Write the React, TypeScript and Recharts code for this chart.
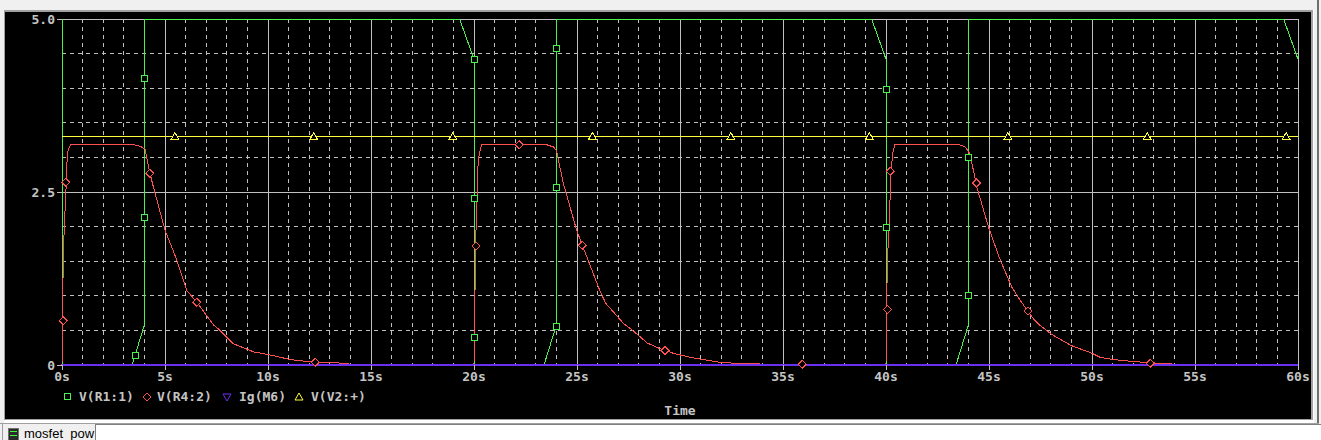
import React from 'react';
import { ComposedChart, Line, XAxis, YAxis, CartesianGrid } from 'recharts';

// ---- axis ticks ----
const X_MAJOR = [0, 5, 10, 15, 20, 25, 30, 35, 40, 45, 50, 55, 60];
const X_MINOR = Array.from({ length: 61 }, (_, i) => i);
const Y_MAJOR = [0, 2.5, 5];
const Y_MINOR = [0, 0.5, 1, 1.5, 2, 2.5, 3, 3.5, 4, 4.5, 5];
const Y_LABELS: Record<string, string> = { '0': '0', '2.5': '2.5', '5': '5.0' };

// ---- V(R1:1) (green) ----
const R1_T = [0, 0, 3.4, 4, 4, 19.3, 20, 20, 23.4, 24, 24, 39.3, 40, 40, 43.4, 44, 44, 59.3, 60];
const R1_V = [5, 0, 0, 0.58, 5, 5, 4.42, 0, 0, 0.58, 5, 5, 4.42, 0, 0, 0.58, 5, 5, 4.42];
const R1_MK_T = [3.56, 4, 4, 20, 20, 20, 24, 24, 24, 40, 40, 44, 44];
const R1_MK_V = [0.14, 2.13, 4.14, 0.4, 2.41, 4.42, 0.56, 2.57, 4.58, 1.98, 3.98, 1.0, 3.0];

// ---- V(R4:2) (red) ----
const R4_T = [
  0, 0.016, 0.065, 0.11, 0.18, 0.23, 0.26, 0.36, 0.42, 3.55, 3.8, 4.03, 4.27, 4.43, 5.0, 5.57, 6.05, 6.54, 7.35, 7.67,
  8.3, 9.3, 10.1, 11.07, 11.6, 12.3, 13.9, 13.9, 16.3, 16.3,
  20, 20.01, 20.08, 20.1, 20.15, 20.2, 20.26, 20.36, 23.56, 23.86, 24.0, 24.34, 24.98, 25.26, 26.1, 26.4, 27.26, 27.57,
  28.06, 28.4, 29.0, 29.67, 30.5, 31.3, 31.9, 32.7, 33.9, 36.3, 36.3,
  40, 40.01, 40.07, 40.16, 40.2, 40.25, 40.33, 40.42, 43.6, 43.85, 44.05, 44.24, 44.4, 44.97, 45.5, 46.1, 46.5, 47.2,
  47.45, 48, 49, 50, 50.4, 51, 52, 53, 53.9, 56.3, 56.3, 60,
];
const R4_V = [
  0, 0.64, 1.55, 2.0, 2.42, 2.82, 3.06, 3.15, 3.18, 3.18, 3.16, 3.12, 2.77, 2.58, 1.95, 1.52, 1.08, 0.91, 0.58, 0.5,
  0.31, 0.19, 0.145, 0.08, 0.06, 0.04, 0.024, 0.014, 0.014, 0,
  0, 0.5, 1.55, 2.0, 2.43, 2.92, 3.06, 3.18, 3.18, 3.15, 3.1, 2.62, 1.95, 1.73, 1.08, 0.89, 0.6, 0.53,
  0.41, 0.32, 0.24, 0.17, 0.11, 0.07, 0.04, 0.024, 0.014, 0.014, 0,
  0, 0.5, 1.55, 2.0, 2.43, 2.82, 3.06, 3.18, 3.18, 3.15, 3.06, 2.82, 2.58, 2.0, 1.55, 1.13, 0.94, 0.65,
  0.58, 0.45, 0.28, 0.17, 0.11, 0.08, 0.05, 0.03, 0.014, 0.014, 0, 0,
];
const R4_MK_T = [0.05, 0.19, 4.27, 6.54, 12.3, 20.09, 22.2, 25.26, 29.27, 35.94, 40.07, 40.2, 44.4, 46.9, 52.82];
const R4_MK_V = [0.64, 2.64, 2.77, 0.91, 0.04, 1.72, 3.18, 1.73, 0.21, 0.01, 0.8, 2.8, 2.63, 0.78, 0.024];

// ---- Ig(M6) (purple) ----
const M6_T = [0, 60];
const M6_V = [0, 0];

// ---- V(V2:+) (yellow) ----
const V2_T = [0, 60];
const V2_V = [3.3, 3.3];
const V2_MK_T = [5.48, 12.22, 18.97, 25.75, 32.47, 39.19, 45.92, 52.68, 59.42];
const V2_MK_V = [3.3, 3.3, 3.3, 3.3, 3.3, 3.3, 3.3, 3.3, 3.3];

const LEGEND = ['V(R1:1)', 'V(R4:2)', 'Ig(M6)', 'V(V2:+)'];

const toRows = (t: number[], v: number[]) => t.map((x, i) => ({ t: x, v: v[i] }));

const C_GREEN = '#4cf04c';
const C_RED = '#ff5050';
const C_PURPLE = '#6a30f0';
const C_YELLOW = '#ffff40';
const C_GRID = '#c0c0c0';
const C_TEXT = '#c4c4c4';
const FONT = "'DejaVu Sans Mono', monospace";

const squareDot = (color: string) => (p: any) =>
  p.cx == null ? <g key={p.index} /> : (
    <rect key={p.index} x={p.cx - 3} y={p.cy - 3} width={6} height={6} fill="#000" stroke={color} strokeWidth={1} />
  );
const diamondDot = (color: string) => (p: any) =>
  p.cx == null ? <g key={p.index} /> : (
    <polygon
      key={p.index}
      points={`${p.cx},${p.cy - 4} ${p.cx + 4},${p.cy} ${p.cx},${p.cy + 4} ${p.cx - 4},${p.cy}`}
      fill="#000"
      stroke={color}
      strokeWidth={1}
    />
  );
const triUpDot = (color: string) => (p: any) =>
  p.cx == null ? <g key={p.index} /> : (
    <polygon
      key={p.index}
      points={`${p.cx},${p.cy - 4} ${p.cx + 4},${p.cy + 3} ${p.cx - 4},${p.cy + 3}`}
      fill="#000"
      stroke={color}
      strokeWidth={1}
    />
  );

const LegendGlyph = ({ kind, color }: { kind: string; color: string }) => (
  <svg width={10} height={10} style={{ display: 'block' }}>
    {kind === 'square' && <rect x={1.5} y={1.5} width={6} height={6} fill="none" stroke={color} />}
    {kind === 'diamond' && <polygon points="5,1 9,5 5,9 1,5" fill="none" stroke={color} />}
    {kind === 'down' && <polygon points="1,2 9,2 5,9" fill="none" stroke={color} />}
    {kind === 'up' && <polygon points="5,1 9,8 1,8" fill="none" stroke={color} />}
  </svg>
);

export default function App() {
  const legendItems = [
    { kind: 'square', color: C_GREEN, gx: 63, tx: 79, label: LEGEND[0] },
    { kind: 'diamond', color: C_RED, gx: 142, tx: 157, label: LEGEND[1] },
    { kind: 'down', color: C_PURPLE, gx: 222, tx: 239, label: LEGEND[2] },
    { kind: 'up', color: C_YELLOW, gx: 294, tx: 311, label: LEGEND[3] },
  ];
  return (
    <div style={{ position: 'absolute', left: 0, top: 0, width: 1321, height: 440, background: '#f0f0f0', overflow: 'hidden' }}>
      <style>{`.rc svg line, .rc svg path, .rc svg rect, .rc svg polygon { shape-rendering: crispEdges; }`}</style>
      {/* window frame */}
      <div style={{ position: 'absolute', left: 4, top: 10, width: 1310, height: 413, background: '#ffffff' }} />
      <div style={{ position: 'absolute', left: 4, top: 10, width: 1309, height: 410, background: '#a0a0a0' }} />
      <div style={{ position: 'absolute', left: 5, top: 12, width: 1306, height: 407, background: '#000000' }} />
      <div style={{ position: 'absolute', left: 1317, top: 0, width: 2, height: 424, background: '#6e6e6e' }} />
      <div style={{ position: 'absolute', left: 0, top: 423, width: 1319, height: 1, background: '#a0a0a0' }} />
      {/* taskbar */}
      <div style={{ position: 'absolute', left: 2, top: 424, width: 1, height: 16, background: '#a0a0a0' }} />
      <div style={{ position: 'absolute', left: 8, top: 428, width: 9, height: 12, background: '#2a2a2a', border: '1px solid #707070' }}>
        <div style={{ position: 'absolute', left: 1, top: 2, width: 7, height: 3, borderTop: '1px solid #3f3', borderBottom: '1px solid #3f3' }} />
      </div>
      <div style={{ position: 'absolute', left: 24, top: 426, fontFamily: "'Liberation Sans', sans-serif", fontSize: 13, lineHeight: '16px', color: '#000' }}>
        mosfet_pow
      </div>
      <div style={{ position: 'absolute', left: 95, top: 424, width: 1226, height: 16, background: '#ffffff', borderTop: '1px solid #808080', borderLeft: '1px solid #808080' }} />

      <div className="rc" style={{ position: 'absolute', left: 0, top: 0 }}>
        <ComposedChart width={1321} height={440} margin={{ top: 19, right: 23, bottom: 0, left: 0 }}>
          <CartesianGrid
            stroke={C_GRID}
            strokeDasharray="4 4"
            verticalValues={X_MINOR}
            horizontalValues={Y_MINOR}
          />
          <CartesianGrid stroke={C_GRID} verticalValues={X_MAJOR} horizontalValues={Y_MAJOR} />
          <XAxis
            dataKey="t"
            type="number"
            domain={[0, 60]}
            ticks={X_MAJOR}
            interval={0}
            height={75}
            axisLine={false}
            tickLine={{ stroke: C_GRID }}
            tickSize={5}
            tickFormatter={(v: number) => `${v}s`}
            tick={{ fill: C_TEXT, fontSize: 13, fontFamily: FONT, fontWeight: 'bold' }}
          />
          <YAxis
            type="number"
            domain={[0, 5]}
            ticks={Y_MAJOR}
            interval={0}
            width={62}
            axisLine={false}
            tickLine={{ stroke: C_GRID }}
            tickSize={5}
            tickFormatter={(v: number) => Y_LABELS[String(v)] ?? String(v)}
            tick={{ fill: C_TEXT, fontSize: 13, fontFamily: FONT, fontWeight: 'bold' }}
          />
          <Line data={toRows(R1_T, R1_V)} dataKey="v" stroke={C_GREEN} strokeWidth={1} dot={false} isAnimationActive={false} />
          <Line data={toRows(R1_MK_T, R1_MK_V)} dataKey="v" stroke="none" strokeWidth={0} dot={squareDot(C_GREEN)} isAnimationActive={false} />
          <Line data={toRows(R4_T, R4_V)} dataKey="v" stroke={C_RED} strokeWidth={1} dot={false} isAnimationActive={false} />
          <Line data={toRows(R4_MK_T, R4_MK_V)} dataKey="v" stroke="none" strokeWidth={0} dot={diamondDot(C_RED)} isAnimationActive={false} />
          <Line data={toRows(M6_T, M6_V)} dataKey="v" stroke={C_PURPLE} strokeWidth={1.5} dot={false} isAnimationActive={false} />
          <Line data={toRows(V2_T, V2_V)} dataKey="v" stroke={C_YELLOW} strokeWidth={1} dot={false} isAnimationActive={false} />
          <Line data={toRows(V2_MK_T, V2_MK_V)} dataKey="v" stroke="none" strokeWidth={0} dot={triUpDot(C_YELLOW)} isAnimationActive={false} />
        </ComposedChart>
      </div>

      {/* legend */}
      {legendItems.map((it) => (
        <React.Fragment key={it.label}>
          <div style={{ position: 'absolute', left: it.gx, top: 392 }}>
            <LegendGlyph kind={it.kind} color={it.color} />
          </div>
          <div style={{ position: 'absolute', left: it.tx, top: 389, fontFamily: FONT, fontSize: 13, fontWeight: 'bold', lineHeight: '16px', color: C_TEXT, whiteSpace: 'pre' }}>
            {it.label}
          </div>
        </React.Fragment>
      ))}
      <div style={{ position: 'absolute', left: 630, width: 100, textAlign: 'center', top: 403, fontFamily: FONT, fontSize: 13, fontWeight: 'bold', lineHeight: '16px', color: C_TEXT }}>
        Time
      </div>
    </div>
  );
}
